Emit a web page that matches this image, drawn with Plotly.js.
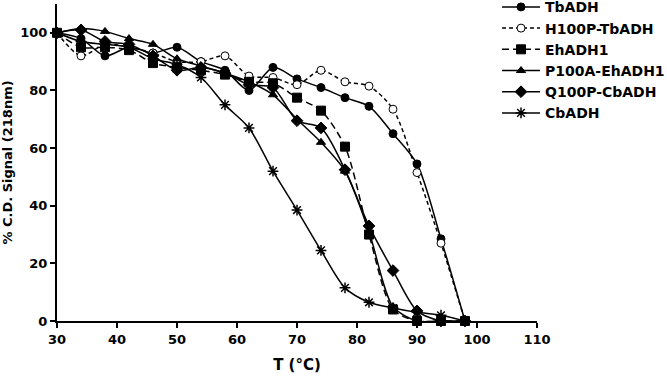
<!DOCTYPE html>
<html>
<head>
<meta charset="utf-8">
<script src="https://cdn.plot.ly/plotly-3.0.1.min.js"></script>
<style>html,body{margin:0;padding:0;background:#fff;}#chart{width:667px;height:380px;}</style>
</head>
<body>
<div id="chart"></div>
<script>
const temps = [30, 34, 38, 42, 46, 50, 54, 58, 62, 66, 70, 74, 78, 82, 86, 90, 94, 98];
const tbADH   = [100, 98, 92, 95, 93, 95, 90, 87, 80, 88, 84, 81, 77.5, 74.5, 65, 54.5, 28.5, 0];
const h100pTb = [100, 92, 96, 95, 93, 90, 90, 92, 85, 84.5, 82, 87, 83, 81.5, 73.5, 51.5, 27, 0];
const ehADH1  = [100, 95, 95, 94, 89.5, 88, 87, 85.5, 83, 82.5, 77.5, 73, 60.5, 30, 4, 0, 0, 0];
const p100aEh = [100, 101.5, 100.5, 98, 96, 91, 88.5, 86, 83, 78.5, 70, 62, 52, 31, 5, 0, 0, 0];
const q100pCb = [100, 101, 97, 96, 92, 87, 88, 86, 82, 81, 69.5, 67, 52.5, 33, 17.5, 3.5, 0, 0];
const cbADH   = [100, 97, 96, 95, 91, 89, 84.5, 75, 67, 52, 38.5, 24.5, 11.5, 6.5, 4.5, 3, 2, 0];
const seriesNames = ["TbADH", "H100P-TbADH", "EhADH1", "P100A-EhADH1", "Q100P-CbADH", "CbADH"];
const xTicks = [30, 40, 50, 60, 70, 80, 90, 100, 110];
const yTicks = [0, 20, 40, 60, 80, 100];

const FONT = "DejaVu Sans, Verdana, sans-serif";
function tr(name, y, symbol, size, dash, fill, mline) {
  return {
    x: temps, y: y, name: name, type: "scatter", mode: "lines+markers",
    cliponaxis: false,
    line: {color: "#000", width: 1.5, dash: dash, shape: "spline", smoothing: 0.8},
    marker: {symbol: symbol, size: size, color: fill, line: {color: "#000", width: mline}}
  };
}
const data = [
  tr(seriesNames[0], tbADH, "circle", 8, "solid", "#000", 1),
  tr(seriesNames[1], h100pTb, "circle", 8, "4px,3px", "#fff", 1),
  tr(seriesNames[2], ehADH1, "square", 9, "7px,4px", "#000", 1),
  tr(seriesNames[3], p100aEh, "triangle-up", 8, "solid", "#000", 1),
  tr(seriesNames[4], q100pCb, "diamond", 9, "solid", "#000", 1),
  tr(seriesNames[5], cbADH, "asterisk-open", 9, "solid", "#000", 1.5)
];

const layout = {
  width: 667, height: 380,
  margin: {l: 57, r: 130, t: 4, b: 59, autoexpand: false},
  paper_bgcolor: "#fff", plot_bgcolor: "#fff",
  font: {family: FONT, color: "#000", size: 12, weight: "bold"},
  showlegend: true,
  legend: {x: 0.9167, xanchor: "left", y: 1.04, yanchor: "top",
           bgcolor: "rgba(0,0,0,0)", borderwidth: 0,
           font: {family: FONT, size: 14, weight: "bold", color: "#000"}, tracegroupgap: 0,
           itemwidth: 38},
  xaxis: {
    range: [30, 110], tickvals: xTicks, ticktext: xTicks.map(String),
    showgrid: false, zeroline: false, showline: true, linecolor: "#000", linewidth: 2,
    ticks: "outside", ticklen: 5, tickwidth: 2, tickcolor: "#000",
    tickfont: {family: FONT, size: 13, weight: "bold"},
    title: {text: "T (°C)", font: {family: FONT, size: 15, weight: "bold"}, standoff: 14}
  },
  yaxis: {
    range: [0, 110], tickvals: yTicks, ticktext: yTicks.map(String),
    showgrid: false, zeroline: false, showline: true, linecolor: "#000", linewidth: 2,
    ticks: "outside", ticklen: 5, tickwidth: 2, tickcolor: "#000",
    tickfont: {family: FONT, size: 13, weight: "bold"},
    title: {text: "% C.D. Signal (218nm)", font: {family: FONT, size: 13, weight: "bold"}, standoff: 12}
  }
};
Plotly.newPlot("chart", data, layout, {displayModeBar: false, staticPlot: true});
</script>
</body>
</html>
